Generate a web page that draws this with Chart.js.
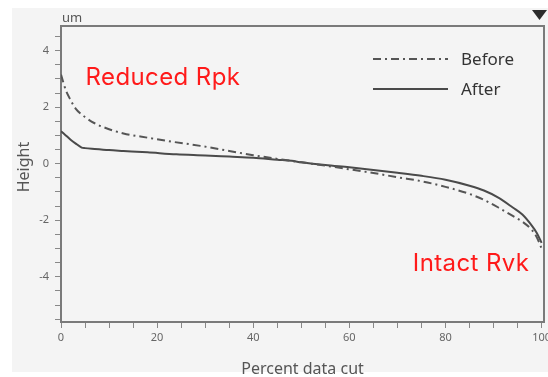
<!DOCTYPE html>
<html>
<head>
<meta charset="utf-8">
<script src="https://cdn.jsdelivr.net/npm/chart.js@4.4.0/dist/chart.umd.min.js"></script>
<style>
    html, body { margin: 0; padding: 0; background: #fff; }
    #wrap { width: 548px; height: 377px; }
</style>
</head>
<body>
<div id="wrap"><canvas id="chart" width="548" height="377"></canvas></div>
<script>
// Bearing area curves (percent data cut vs height in um)
const pctBefore = [0, 1, 2, 3, 5, 7, 10, 13, 18, 23, 29, 35, 40, 45, 50, 55, 60, 65, 70, 75, 80, 85, 88, 91, 94, 96, 98, 99, 100];
const heightBefore = [3.15, 2.6, 2.25, 1.96, 1.65, 1.43, 1.22, 1.07, 0.92, 0.78, 0.63, 0.45, 0.30, 0.17, 0.05, -0.07, -0.2, -0.33, -0.48, -0.62, -0.82, -1.07, -1.28, -1.55, -1.85, -2.05, -2.35, -2.6, -3.0];

const pctAfter = [0, 1, 2, 3, 4.3, 5, 7, 10, 13, 18, 24, 30, 35, 40, 45, 48, 50, 55, 60, 65, 70, 75, 80, 85, 88, 91, 94, 96, 98, 99, 100];
const heightAfter = [1.15, 1.0, 0.85, 0.72, 0.57, 0.55, 0.52, 0.48, 0.45, 0.40, 0.33, 0.29, 0.25, 0.21, 0.14, 0.10, 0.05, -0.05, -0.13, -0.22, -0.32, -0.43, -0.57, -0.78, -0.95, -1.2, -1.55, -1.8, -2.2, -2.45, -2.8];

const seriesNames = ['Before', 'After'];
const xTickLabels = [0, 20, 40, 60, 80, 100];
const yTickLabels = [-4, -2, 0, 2, 4];
const xMinorStep = 5;
const yMinorStep = 0.5;

const textFont = '"Noto Sans", "Open Sans", sans-serif';

function toPoints(xs, ys) {
    return xs.map((x, i) => ({ x: x, y: ys[i] }));
}

function stepTicks(from, to, step) {
    const ticks = [];
    for (let v = from; v <= to + 1e-9; v += step) {
        ticks.push({ value: Math.round(v * 100) / 100 });
    }
    return ticks;
}

// Background, frame, titles, legend and notes
const decorPlugin = {
    id: 'decor',
    beforeDraw(chart) {
        const ctx = chart.ctx;
        ctx.save();
        ctx.fillStyle = '#f4f4f4';
        ctx.fillRect(12, 8, chart.width - 12, 364);
        ctx.restore();
    },
    afterDraw(chart) {
        const ctx = chart.ctx;
        const area = chart.chartArea;
        const xs = chart.scales.x;
        const ys = chart.scales.y;
        ctx.save();

        // top and right border of the plot box
        ctx.strokeStyle = '#7a7a7a';
        ctx.lineWidth = 2;
        ctx.beginPath();
        ctx.moveTo(area.left, area.top);
        ctx.lineTo(area.right, area.top);
        ctx.lineTo(area.right, area.bottom);
        ctx.stroke();

        // unit label
        ctx.fillStyle = '#555';
        ctx.font = '13px ' + textFont;
        ctx.textAlign = 'left';
        ctx.textBaseline = 'alphabetic';
        ctx.fillText('um', area.left + 1, area.top - 4);

        // marker triangle top right
        ctx.fillStyle = '#2b2b2b';
        ctx.beginPath();
        ctx.moveTo(532, 10);
        ctx.lineTo(547, 10);
        ctx.lineTo(539.5, 20);
        ctx.closePath();
        ctx.fill();

        // axis titles
        ctx.fillStyle = '#555';
        ctx.font = '16px ' + textFont;
        ctx.textAlign = 'center';
        ctx.textBaseline = 'middle';
        ctx.fillText('Percent data cut', (area.left + area.right) / 2, 369);
        ctx.save();
        ctx.translate(24, 167);
        ctx.rotate(-Math.PI / 2);
        ctx.fillText('Height', 0, 0);
        ctx.restore();

        // legend
        ctx.font = '17px ' + textFont;
        ctx.textAlign = 'left';
        ctx.textBaseline = 'alphabetic';
        const legendRows = [59, 89];
        chart.data.datasets.forEach((ds, i) => {
            const y = legendRows[i];
            ctx.strokeStyle = ds.borderColor;
            ctx.lineWidth = ds.borderWidth;
            ctx.setLineDash(ds.borderDash || []);
            ctx.beginPath();
            ctx.moveTo(373, y);
            ctx.lineTo(448, y);
            ctx.stroke();
            ctx.setLineDash([]);
            ctx.fillStyle = '#333';
            ctx.fillText(ds.label, 461, y + 6);
        });

        // red notes
        ctx.fillStyle = '#ff1a1a';
        ctx.font = '24px Inter, sans-serif';
        ctx.letterSpacing = '0.4px';
        ctx.fillText('Reduced Rpk', xs.getPixelForValue(5.1), ys.getPixelForValue(2.8));
        ctx.fillText('Intact Rvk', xs.getPixelForValue(73.2), ys.getPixelForValue(-3.8));
        ctx.letterSpacing = '0px';

        ctx.restore();
    }
};

const ctx = document.getElementById('chart');

new Chart(ctx, {
    type: 'line',
    data: {
        datasets: [{
            label: seriesNames[0],
            data: toPoints(pctBefore, heightBefore),
            borderColor: '#555555',
            borderWidth: 2,
            borderDash: [8, 4, 2, 4],
            pointRadius: 0,
            cubicInterpolationMode: 'monotone',
            fill: false
        }, {
            label: seriesNames[1],
            data: toPoints(pctAfter, heightAfter),
            borderColor: '#4a4a4a',
            borderWidth: 2,
            pointRadius: 0,
            cubicInterpolationMode: 'monotone',
            fill: false
        }]
    },
    options: {
        responsive: false,
        animation: false,
        devicePixelRatio: 1,
        layout: {
            padding: { left: 0, top: 26, right: 4, bottom: 0 }
        },
        plugins: {
            legend: { display: false },
            tooltip: { enabled: false }
        },
        scales: {
            x: {
                type: 'linear',
                min: 0,
                max: 100.5,
                afterBuildTicks: (scale) => {
                    scale.ticks = stepTicks(0, 100, xMinorStep);
                },
                afterFit: (scale) => {
                    scale.height = 55;
                    scale.paddingLeft = 0;
                    scale.paddingRight = 0;
                },
                ticks: {
                    autoSkip: false,
                    maxRotation: 0,
                    padding: 3,
                    color: '#666',
                    font: { size: 11, family: textFont },
                    callback: (v) => xTickLabels.includes(v) ? String(v) : ''
                },
                grid: {
                    drawOnChartArea: false,
                    drawTicks: true,
                    tickLength: 6,
                    color: '#888'
                },
                border: { color: '#7a7a7a', width: 2 }
            },
            y: {
                type: 'linear',
                min: -5.60,
                max: 4.87,
                afterBuildTicks: (scale) => {
                    scale.ticks = stepTicks(-5.5, 4.5, yMinorStep);
                },
                afterFit: (scale) => {
                    scale.width = 61;
                    scale.paddingTop = 0;
                    scale.paddingBottom = 0;
                },
                ticks: {
                    autoSkip: false,
                    padding: 6,
                    color: '#666',
                    font: { size: 11, family: textFont },
                    callback: (v) => yTickLabels.includes(v) ? String(v) : ''
                },
                grid: {
                    drawOnChartArea: false,
                    drawTicks: true,
                    tickLength: 6,
                    color: '#888'
                },
                border: { color: '#7a7a7a', width: 2 }
            }
        }
    },
    plugins: [decorPlugin]
});
</script>
</body>
</html>
